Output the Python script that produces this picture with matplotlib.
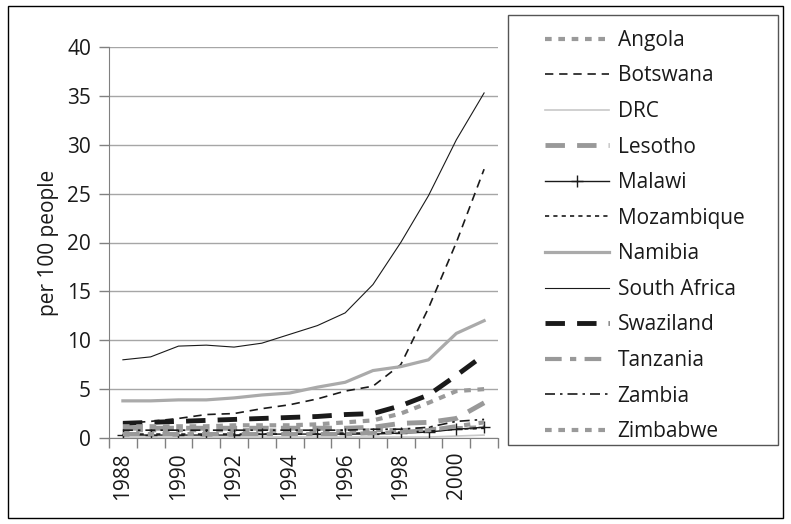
import matplotlib
matplotlib.use("Agg")
import matplotlib.pyplot as plt
from matplotlib.patches import Rectangle
import numpy as np

plt.rcParams['font.family'] = ['Open Sans', 'DejaVu Sans']

years = [1988, 1989, 1990, 1991, 1992, 1993, 1994, 1995, 1996, 1997, 1998, 1999, 2000, 2001]
tick_labels = ['1988', '', '1990', '', '1992', '', '1994', '', '1996', '', '1998', '', '2000', '']

angola = [0.8, 0.8, 0.8, 0.8, 0.8, 0.8, 0.7, 0.7, 0.7, 0.8, 0.8, 0.9, 1.0, 1.1]
botswana = [1.5, 1.7, 2.0, 2.4, 2.5, 3.0, 3.4, 4.0, 4.8, 5.3, 7.5, 13.3, 20.0, 27.5]
drc = [0.1, 0.1, 0.1, 0.1, 0.1, 0.1, 0.1, 0.1, 0.1, 0.1, 0.1, 0.1, 0.2, 0.3]
lesotho = [1.0, 1.0, 1.0, 1.0, 1.0, 1.0, 1.0, 1.0, 1.0, 1.1, 1.5, 1.6, 2.0, 3.6]
malawi = [0.3, 0.3, 0.3, 0.3, 0.3, 0.4, 0.4, 0.4, 0.4, 0.4, 0.5, 0.6, 0.9, 1.1]
mozambique = [0.4, 0.4, 0.4, 0.4, 0.4, 0.4, 0.4, 0.4, 0.5, 0.5, 0.6, 0.7, 0.9, 1.0]
namibia = [3.8, 3.8, 3.9, 3.9, 4.1, 4.4, 4.6, 5.2, 5.7, 6.9, 7.3, 8.0, 10.7, 12.0]
south_africa = [8.0, 8.3, 9.4, 9.5, 9.3, 9.7, 10.6, 11.5, 12.8, 15.7, 20.0, 24.8, 30.5, 35.3]
swaziland = [1.5, 1.6, 1.7, 1.8, 1.9, 2.0, 2.1, 2.2, 2.4, 2.5, 3.3, 4.4, 6.4, 8.5]
tanzania = [0.4, 0.4, 0.4, 0.4, 0.4, 0.4, 0.4, 0.4, 0.4, 0.5, 0.6, 0.8, 1.2, 1.6]
zambia = [0.8, 0.8, 0.8, 0.8, 0.8, 0.8, 0.8, 0.8, 0.8, 0.9, 0.9, 1.1, 1.7, 1.9]
zimbabwe = [1.2, 1.2, 1.2, 1.2, 1.3, 1.3, 1.3, 1.4, 1.6, 1.8, 2.5, 3.6, 4.8, 5.0]

W, H = 791, 524
FS = 15
fig = plt.figure(figsize=(W / 100, H / 100), dpi=100)

# outer frame
fig.patches.append(Rectangle((8 / W, 1 - 518 / H), (783 - 8) / W, (518 - 6) / H,
                             transform=fig.transFigure, fill=False, edgecolor='black', lw=1.0))

ax = fig.add_axes([109 / W, 1 - 438 / H, (498 - 109) / W, (438 - 47) / H])
x = np.arange(len(years))

ax.plot(x, angola, color='#9a9a9a', lw=3, linestyle=(0, (1.6, 1.6)), label='Angola')
ax.plot(x, botswana, color='#1a1a1a', lw=1.2, linestyle=(0, (5, 3.5)), label='Botswana')
ax.plot(x, drc, color='#c8c8c8', lw=1.2, linestyle='-', label='DRC')
ax.plot(x, lesotho, color='#999999', lw=3.5, linestyle=(0, (4, 2.5)), label='Lesotho')
ax.plot(x, malawi, color='#1a1a1a', lw=1.0, marker='+', markersize=8, markeredgewidth=1.0, label='Malawi')
ax.plot(x, mozambique, color='#1a1a1a', lw=1.2, linestyle=(0, (2.5, 2.5)), label='Mozambique')
ax.plot(x, namibia, color='#aaaaaa', lw=2.3, linestyle='-', label='Namibia')
ax.plot(x, south_africa, color='#1a1a1a', lw=0.8, linestyle='-', label='South Africa')
ax.plot(x, swaziland, color='#1a1a1a', lw=3.5, linestyle=(0, (4, 2.5)), label='Swaziland')
ax.plot(x, tanzania, color='#999999', lw=3, linestyle=(0, (4, 2, 1.5, 2)), label='Tanzania')
ax.plot(x, zambia, color='#1a1a1a', lw=1.2, linestyle=(0, (6, 3, 1.5, 3)), label='Zambia')
ax.plot(x, zimbabwe, color='#9a9a9a', lw=3, linestyle=(0, (1.6, 1.6)), label='Zimbabwe')

ax.set_xlim(-0.5, len(years) - 0.5)
ax.set_ylim(0, 40)
ax.set_yticks(np.arange(0, 41, 5))
ax.yaxis.grid(True, color='#a6a6a6', lw=1.0)
ax.set_axisbelow(True)
ax.tick_params(axis='y', labelsize=FS, length=7, width=1, color='#808080', pad=6,
               labelcolor='#1a1a1a')

ax.set_xticks(x)
ax.set_xticklabels(tick_labels, rotation=90, fontsize=FS, color='#1a1a1a')
ax.tick_params(axis='x', which='major', length=0, pad=10)
ax.set_xticks(np.arange(-0.5, len(years), 1), minor=True)
ax.tick_params(axis='x', which='minor', length=7, width=1, color='#808080')

for s in ['top', 'right']:
    ax.spines[s].set_visible(False)
for s in ['left', 'bottom']:
    ax.spines[s].set_color('#808080')

ax.set_ylabel('per 100 people', fontsize=FS, labelpad=6, color='#1a1a1a')

# legend frame
fig.patches.append(Rectangle((508 / W, 1 - 445 / H), (778 - 508) / W, (445 - 15) / H,
                             transform=fig.transFigure, fill=False, edgecolor='#555555', lw=1.0))
leg = fig.legend(*ax.get_legend_handles_labels(), loc='center left',
                 bbox_to_anchor=(526 / W, 1 - 236 / H), frameon=False, fontsize=FS,
                 handlelength=3.1, handletextpad=0.4, labelspacing=0.70)
for t in leg.get_texts():
    t.set_color('#1a1a1a')

fig.savefig('out.png', dpi=100)
